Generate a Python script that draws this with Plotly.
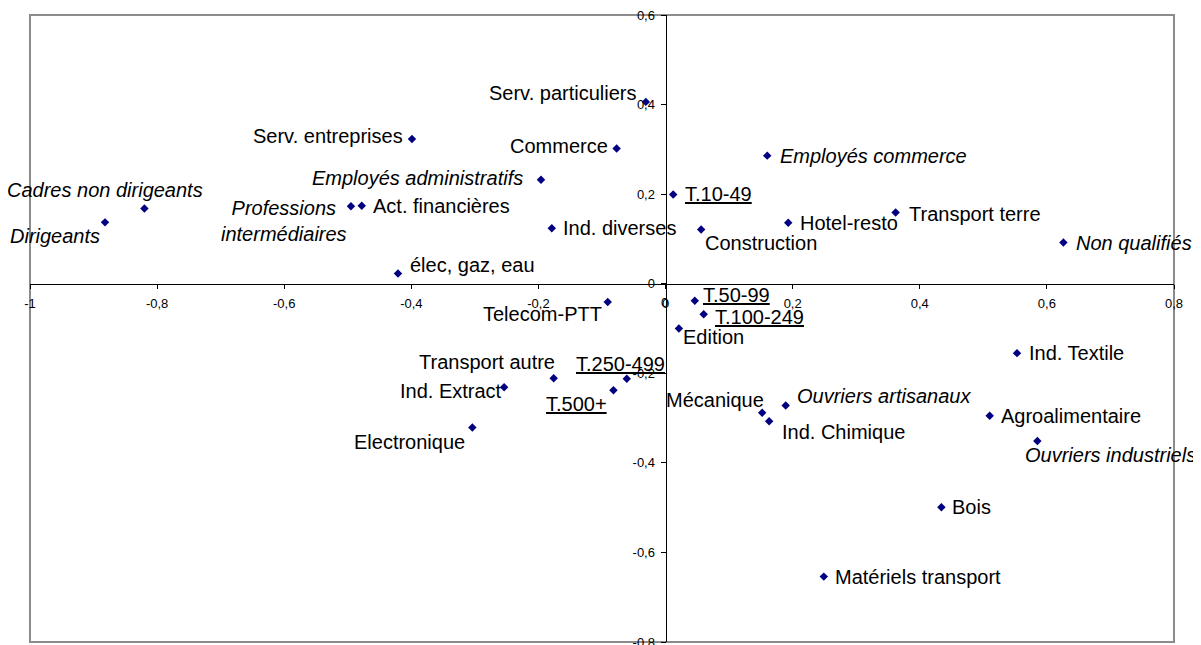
import plotly.graph_objects as go

# ---- data ----
labels = [
    "Dirigeants", "Cadres non dirigeants", "Professions<br>intermédiaires", "Act. financières",
    "élec, gaz, eau", "Serv. entreprises", "Serv. particuliers", "Commerce",
    "Employés administratifs", "Ind. diverses", "T.10-49", "Construction",
    "Hotel-resto", "Employés commerce", "Telecom-PTT", "T.50-99",
    "T.100-249", "Transport terre", "Non qualifiés", "Edition",
    "Transport autre", "T.250-499", "T.500+", "Ind. Extract",
    "Electronique", "Mécanique", "Ind. Chimique", "Ouvriers artisanaux",
    "Ind. Textile", "Agroalimentaire", "Ouvriers industriels", "Bois",
    "Matériels transport",
]
x_values = [
    -0.882, -0.820, -0.495, -0.478,
    -0.421, -0.399, -0.031, -0.077,
    -0.196, -0.179, 0.012, 0.056,
    0.193, 0.160, -0.091, 0.046,
    0.060, 0.362, 0.626, 0.021,
    -0.176, -0.061, -0.082, -0.254,
    -0.304, 0.152, 0.163, 0.189,
    0.553, 0.510, 0.585, 0.434,
    0.249,
]
y_values = [
    0.137, 0.168, 0.173, 0.174,
    0.023, 0.323, 0.406, 0.302,
    0.232, 0.124, 0.199, 0.121,
    0.136, 0.286, -0.041, -0.038,
    -0.068, 0.159, 0.092, -0.100,
    -0.211, -0.212, -0.238, -0.231,
    -0.321, -0.288, -0.307, -0.272,
    -0.155, -0.295, -0.351, -0.499,
    -0.654,
]
# label kind: 'p' plain sector, 'i' italic occupation, 'u' underlined size class
label_kind = [
    "i", "i", "i", "p",
    "p", "p", "p", "p",
    "i", "p", "u", "p",
    "p", "i", "p", "u",
    "u", "p", "i", "p",
    "p", "u", "u", "p",
    "p", "p", "p", "i",
    "p", "p", "i", "p",
    "p",
]
x_tick_vals = [-1, -0.8, -0.6, -0.4, -0.2, 0, 0.2, 0.4, 0.6, 0.8]
x_tick_text = ["-1", "-0,8", "-0,6", "-0,4", "-0,2", "0", "0,2", "0,4", "0,6", "0,8"]
y_tick_vals = [-0.8, -0.6, -0.4, -0.2, 0, 0.2, 0.4, 0.6]
y_tick_text = ["-0,8", "-0,6", "-0,4", "-0,2", "0", "0,2", "0,4", "0,6"]

# ---- label placement (style): anchor side, pixel dx, pixel dy (down positive) ----
label_place = [
    ("right", -5, 14), ("center", -39, -18), ("right", -4, 14.5), ("left", 11, 0),
    ("left", 12, -8), ("right", -9, -3), ("right", -10, -8.5), ("right", -9, -2.5),
    ("right", -18, -1.5), ("left", 11, 0), ("left", 12, -0.5), ("left", 4, 13.5),
    ("left", 12, 0), ("left", 13, 0), ("right", -6, 12), ("left", 8, -5.5),
    ("left", 11.5, 2.5), ("left", 13, 1), ("left", 13, 0), ("left", 4, 8),
    ("right", 1, -16), ("center", -6, -15), ("right", -6.5, 14), ("right", -2, 4),
    ("right", -7, 15), ("right", 2, -12.7), ("left", 13, 11), ("left", 11, -10),
    ("left", 12, 0), ("left", 11, 0), ("left", -12, 14), ("left", 11, 0),
    ("left", 11, 0),
]

FONT = "Arial, 'Liberation Sans', sans-serif"

fig = go.Figure()
fig.add_trace(go.Scatter(
    x=x_values, y=y_values, mode="markers",
    marker=dict(symbol="diamond", size=6.5, color="#000080", line=dict(width=0)),
    hoverinfo="text", text=labels, showlegend=False,
))

annotations = []
for lab, xv, yv, kind, (anc, dx, dy) in zip(labels, x_values, y_values, label_kind, label_place):
    if kind == "i":
        txt = "<i>" + lab + "</i>"
    elif kind == "u":
        txt = "<u>" + lab + "</u>"
    else:
        txt = lab
    annotations.append(dict(
        x=xv, y=yv, xref="x", yref="y", text=txt, showarrow=False,
        xanchor=anc, yanchor="middle", xshift=dx, yshift=-dy,
        align="center", borderpad=0, borderwidth=0,
        font=dict(family=FONT, size=20, color="#000000"),
    ))

# Plotly suppresses the x-axis "0" label where the y axis crosses; restore it
zero_idx = x_tick_vals.index(0)
annotations.append(dict(
    x=x_tick_vals[zero_idx], y=0, xref="x", yref="y", text=x_tick_text[zero_idx],
    showarrow=False, xanchor="center", yanchor="middle", xshift=-1, yshift=-19,
    borderpad=0, borderwidth=0,
    font=dict(family=FONT, size=13, color="#000000"),
))

fig.update_layout(
    width=1193, height=637,
    margin=dict(l=22, r=27, t=7, b=3, pad=0),
    paper_bgcolor="white", plot_bgcolor="white",
    font=dict(family=FONT, color="#000000"),
    annotations=annotations,
    shapes=[dict(type="rect", xref="paper", yref="paper", x0=0, x1=1, y0=0, y1=1,
                 line=dict(color="#8c8c8c", width=2), layer="below")],
    xaxis=dict(
        range=[-1, 0.8], anchor="free", position=0.8 / 1.4,
        showline=True, linecolor="#000000", linewidth=1,
        ticks="outside", ticklen=4, tickcolor="#000000", tickwidth=1,
        tickvals=x_tick_vals, ticktext=x_tick_text,
        tickfont=dict(family=FONT, size=13, color="#000000"),
        showgrid=False, zeroline=False, automargin=False,
        ticklabelstandoff=4, ticklabeloverflow="allow",
    ),
    yaxis=dict(
        range=[-0.8, 0.6], anchor="free", position=1 / 1.8,
        showline=True, linecolor="#000000", linewidth=1,
        ticks="outside", ticklen=5, tickcolor="#000000", tickwidth=1,
        tickvals=y_tick_vals, ticktext=y_tick_text,
        tickfont=dict(family=FONT, size=13, color="#000000"),
        showgrid=False, zeroline=False, automargin=False,
        ticklabelstandoff=3, ticklabeloverflow="allow",
    ),
)

fig.write_html("out.html")
